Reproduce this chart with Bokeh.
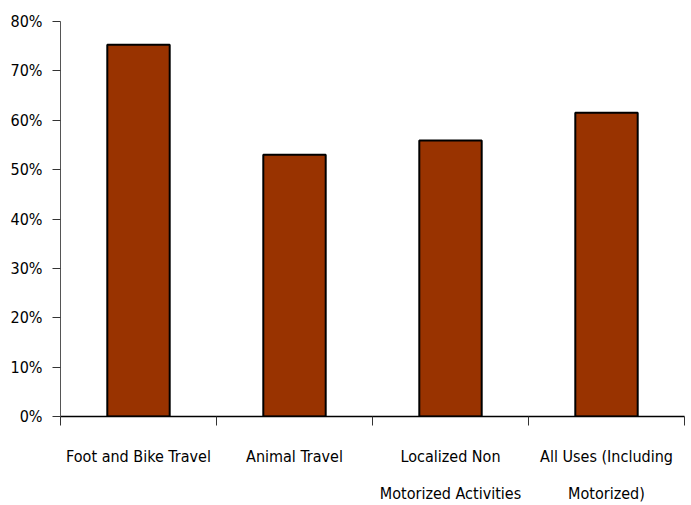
from bokeh.plotting import figure
from bokeh.models import ColumnDataSource, FixedTicker, Range1d
from bokeh.embed import file_html
from bokeh.resources import INLINE

categories = [
    "Foot and Bike Travel",
    "Animal Travel",
    "Localized Non\nMotorized Activities",
    "All Uses (Including\nMotorized)",
]
shares = [75.3, 53.0, 55.9, 61.5]
y_ticks = [0, 10, 20, 30, 40, 50, 60, 70, 80]
y_tick_labels = [f"{t}%" for t in y_ticks]

FONT = "DejaVu Sans Condensed"

centers = [i + 0.5 for i in range(len(categories))]
source = ColumnDataSource(dict(x=centers, top=shares, name=categories))

p = figure(
    width=691, height=505,
    x_range=Range1d(0, len(categories)), y_range=Range1d(0, 80),
    output_backend="svg", toolbar_location=None,
    min_border_left=60, min_border_right=7, min_border_top=21, min_border_bottom=89,
)
p.outline_line_color = None
p.xgrid.visible = False
p.ygrid.visible = False
p.background_fill_color = "white"

p.vbar(x="x", top="top", width=0.4, bottom=0, source=source,
       fill_color="#993300", line_color="black", line_width=2)

# x axis: category labels centred, boundary ticks between categories
xa = p.xaxis[0]
xa.ticker = FixedTicker(ticks=centers, minor_ticks=list(range(len(categories) + 1)))
xa.major_label_overrides = {c: n for c, n in zip(centers, categories)}
xa.major_tick_out = 0
xa.major_tick_in = 0
xa.minor_tick_out = 9
xa.minor_tick_in = 0
xa.minor_tick_line_color = "#333333"
xa.axis_line_color = "black"
xa.axis_line_width = 1.5
xa.major_label_text_font = FONT
xa.major_label_text_font_size = "16px"
xa.major_label_text_color = "black"
xa.major_label_text_line_height = 1.95
xa.major_label_standoff = 21

ya = p.yaxis[0]
ya.ticker = FixedTicker(ticks=y_ticks)
ya.major_label_overrides = {t: l for t, l in zip(y_ticks, y_tick_labels)}
ya.minor_tick_line_color = None
ya.major_tick_out = 8
ya.major_tick_in = 0
ya.axis_line_color = "#555555"
ya.major_tick_line_color = "#333333"
ya.major_label_text_font = FONT
ya.major_label_text_font_size = "16px"
ya.major_label_text_color = "black"
ya.major_label_standoff = 10

open("out.html", "w").write(file_html(p, INLINE))
